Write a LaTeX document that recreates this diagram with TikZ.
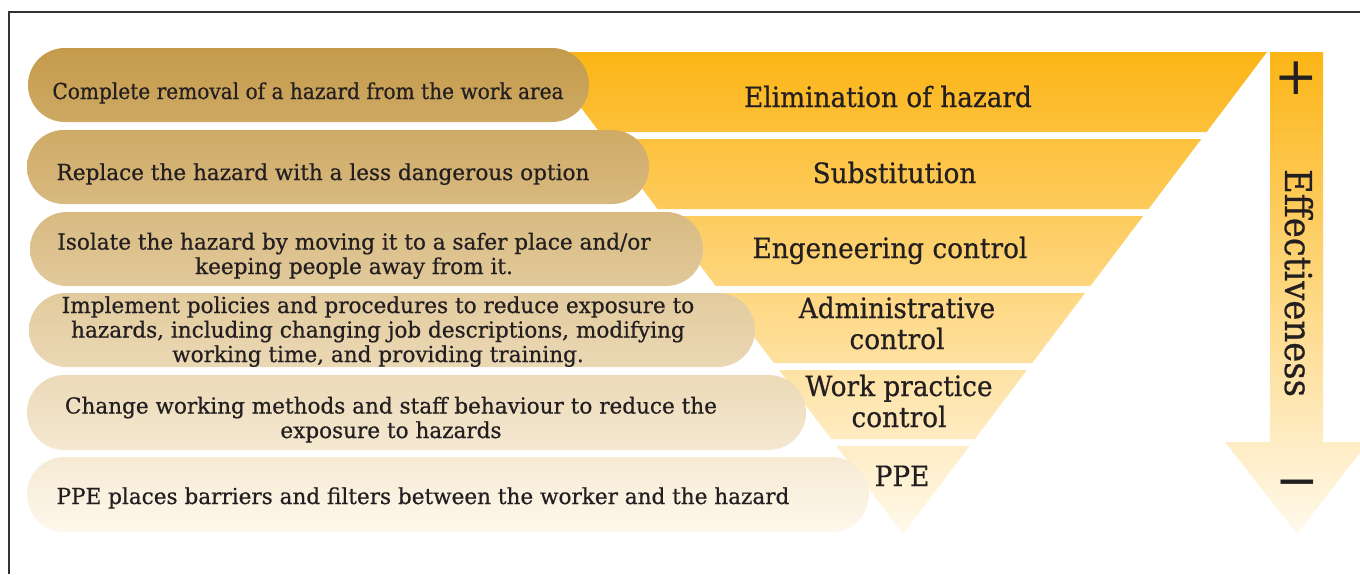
\documentclass[tikz,border=0pt]{standalone}
\usepackage{fontspec}
\setmainfont{DejaVu Serif}[FakeStretch=0.98,FakeBold=0.6]
\newfontfamily\tightfont{DejaVu Serif}[FakeStretch=0.915,FakeBold=0.6]
\newfontfamily\labfont{DejaVu Serif}[FakeStretch=0.94,FakeBold=0.6]
\newfontfamily\efffont{DejaVu Serif}[FakeStretch=0.915,FakeBold=0.6]
\newfontfamily\signfont{DejaVu Sans}
\usetikzlibrary{shapes.misc}
\definecolor{ink}{RGB}{35,31,32}
\definecolor{btop}{RGB}{252,181,22}
\definecolor{bbot}{RGB}{255,249,236}
\definecolor{ptop}{RGB}{197,155,75}
\definecolor{pbot}{RGB}{254,248,236}
\definecolor{framec}{RGB}{50,50,50}
\tikzset{
  body/.style={text=ink, font=\fontsize{22}{24.5}\selectfont, align=center, inner sep=0pt, anchor=base},
  lab/.style={text=ink, font=\labfont\fontsize{28}{31}\selectfont, align=center, inner sep=0pt, anchor=base},
  pill/.style={rounded rectangle, minimum height=74pt, inner sep=0pt, draw=none},
  sign/.style={text=ink, font=\signfont\fontsize{52}{52}\selectfont, inner sep=0pt, anchor=center},
  framel/.style={draw=framec, line width=1.3pt},
}
\begin{document}
\begin{tikzpicture}[x=1pt,y=-1pt]
\useasboundingbox (0,0) rectangle (1360,574);
\clip (0,0) rectangle (1360,574);
\fill[white] (0,0) rectangle (1360,574);
% frame
\draw[framel] (9,574) -- (9,12) -- (1360,12);
% bands of the inverted pyramid
\foreach \yt/\yb/\pt/\pb in {52/132/0/16.6, 139/209/18/32.6, 216/286/34/48.5, 293/363/50/64.5, 370/439/66/80.3}{
  \shade[top color=bbot!\pt!btop, bottom color=bbot!\pb!btop]
   ({539+0.755*(\yt-52)},\yt) -- ({1267-0.755*(\yt-52)},\yt) -- ({1267-0.755*(\yb-52)},\yb) -- ({539+0.755*(\yb-52)},\yb) -- cycle;
}
\shade[top color=bbot!81.7!btop, bottom color=bbot]
  ({539+0.755*394},446) -- ({1267-0.755*394},446) -- (903,534) -- cycle;
% effectiveness arrow
\shade[top color=btop, bottom color=bbot]
  (1270,52) -- (1323,52) -- (1323,442) -- (1368,442) -- (1297,534) -- (1225,442) -- (1270,442) -- cycle;
% pills
\node[pill, minimum width=561pt, top color=ptop, bottom color=pbot!15.3!ptop] (p1) at (308.5,85) {};
\node[pill, minimum width=622pt, top color=pbot!16.9!ptop, bottom color=pbot!32.2!ptop] (p2) at (338,167) {};
\node[pill, minimum width=673pt, top color=pbot!33.9!ptop, bottom color=pbot!49.2!ptop] (p3) at (366.5,249) {};
\node[pill, minimum width=726pt, top color=pbot!50.6!ptop, bottom color=pbot!65.9!ptop] (p4) at (392,330) {};
\node[pill, minimum width=779pt, minimum height=75pt, top color=pbot!67.6!ptop, bottom color=pbot!83.1!ptop] (p5) at (416.5,412.5) {};
\node[pill, minimum width=842pt, minimum height=75pt, top color=pbot!84.5!ptop, bottom color=pbot] (p6) at (448,494.5) {};
% pill texts (base = baseline of the last line)
\node[body, font=\tightfont\fontsize{22}{24.5}\selectfont] (t1) at (308,99) {Complete removal of a hazard from the work area};
\node[body] (t2) at (323,180) {Replace the hazard with a less dangerous option};
\node[body] (t3) at (354,274) {Isolate the hazard by moving it to a safer place and/or\\keeping people away from it.};
\node[body] (t4) at (378,362) {Implement policies and procedures to reduce exposure to\\hazards, including changing job descriptions, modifying\\working time, and providing training.};
\node[body] (t5) at (391,438) {Change working methods and staff behaviour to reduce the\\exposure to hazards};
\node[body] (t6) at (423,504) {PPE places barriers and filters between the worker and the hazard};
% band labels
\node[lab] (l1) at (888,107) {Elimination of hazard};
\node[lab] (l2) at (894.5,183) {Substitution};
\node[lab] (l3) at (890,258) {Engeneering control};
\node[lab] (l4) at (897,349) {Administrative\\control};
\node[lab] (l5) at (899,427) {Work practice\\control};
\node[lab] (l6) at (902,486) {PPE};
% arrow texts
\node[text=ink, font=\efffont\fontsize{37}{37}\selectfont, inner sep=0pt, anchor=base, rotate=-90] (eff) at (1285,283) {Effectiveness};
\node[sign] (plus) at (1296.5,78.5) {+};
\node[sign] (minus) at (1297,489) {−};
\end{tikzpicture}
\end{document}
